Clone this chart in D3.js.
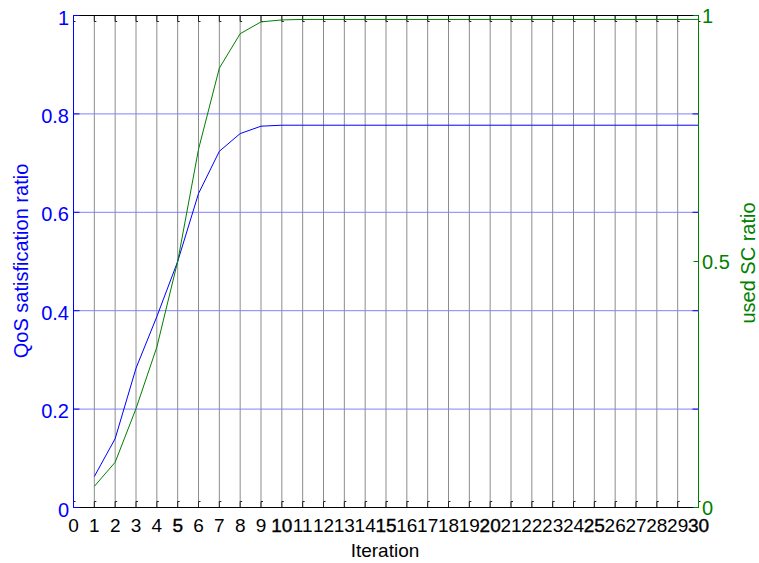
<!DOCTYPE html>
<html><head><meta charset="utf-8">
<script src="https://cdn.jsdelivr.net/npm/d3@7"></script>
<style>html,body{margin:0;padding:0;background:#fff;}svg{display:block;font-family:"Liberation Sans",Arial,sans-serif;}</style>
</head><body>
<script>
const iterations = [1,2,3,4,5,6,7,8,9,10,11,12,13,14,15,16,17,18,19,20,21,22,23,24,25,26,27,28,29,30];
const qosRatio = [0.063,0.140,0.283,0.388,0.500,0.638,0.724,0.760,0.775,0.777,0.777,0.777,0.777,0.777,0.777,0.777,0.777,0.777,0.777,0.777,0.777,0.777,0.777,0.777,0.777,0.777,0.777,0.777,0.777,0.777];
const scRatio = [0.043,0.092,0.201,0.326,0.500,0.728,0.893,0.963,0.987,0.991,0.992,0.992,0.992,0.992,0.992,0.992,0.992,0.992,0.992,0.992,0.992,0.992,0.992,0.992,0.992,0.992,0.992,0.992,0.992,0.992];
const xTicks = [0,1,2,3,4,5,6,7,8,9,10,11,12,13,14,15,16,17,18,19,20,21,22,23,24,25,26,27,28,29,30];
const xMajorTicks = [5,10,15,20,25,30];
const leftTicks = [0,0.2,0.4,0.6,0.8,1];
const rightTicks = [0,0.5,1];

const W = 759, H = 563;
const L = 73.5, R = 698.5, T = 15.5, B = 507.5;
const svg = d3.select("body").append("svg").attr("width", W).attr("height", H);

const x = d3.scaleLinear().domain([0,30]).range([L,R]);
const yL = d3.scaleLinear().domain([0,1]).range([B,T]);
const yR = d3.scaleLinear().domain([0,1]).range([B,T]);

const blue = "#0000ff", green = "#008000";

// vertical grid
svg.append("g").selectAll("line").data(xTicks.filter(d=>d>0&&d<30)).join("line")
  .attr("x1", d=>x(d)).attr("x2", d=>x(d)).attr("y1", T).attr("y2", B)
  .attr("stroke", "#8c8c8c").attr("stroke-width", 1);
// horizontal grid (left axis)
svg.append("g").selectAll("line").data(leftTicks.filter(d=>d>0&&d<1)).join("line")
  .attr("x1", L).attr("x2", R).attr("y1", d=>yL(d)).attr("y2", d=>yL(d))
  .attr("stroke", "#8080ff").attr("stroke-width", 1);

// top & bottom ticks
const tk = svg.append("g").attr("stroke", "#222").attr("fill", "none");
tk.selectAll("path.b").data(xTicks).join("path").attr("class","b")
  .attr("d", d=>`M${x(d)},${B}V${B-6}h2`);
tk.selectAll("path.t").data(xTicks).join("path").attr("class","t")
  .attr("d", d=>`M${x(d)},${T}V${T+6}h2`);

// lines
const lineL = d3.line().x((d,i)=>x(iterations[i])).y(d=>yL(d));
const lineR = d3.line().x((d,i)=>x(iterations[i])).y(d=>yR(d));
svg.append("path").datum(qosRatio).attr("d", lineL).attr("fill","none").attr("stroke", blue).attr("stroke-width",1);
svg.append("path").datum(scRatio).attr("d", lineR).attr("fill","none").attr("stroke", green).attr("stroke-width",1);

// box
svg.append("line").attr("x1",L).attr("x2",R).attr("y1",T).attr("y2",T).attr("stroke","#000");
svg.append("line").attr("x1",L).attr("x2",R).attr("y1",B).attr("y2",B).attr("stroke","#000");

// left axis
const gl = svg.append("g");
gl.append("line").attr("x1",L).attr("x2",L).attr("y1",T).attr("y2",B).attr("stroke",blue);
gl.selectAll("line.t").data(leftTicks).join("line").attr("class","t")
  .attr("x1",L).attr("x2",L+6).attr("y1",d=>yL(d)).attr("y2",d=>yL(d)).attr("stroke",blue);
gl.selectAll("line.r").data(leftTicks).join("line").attr("class","r")
  .attr("x1",R-6).attr("x2",R).attr("y1",d=>yL(d)).attr("y2",d=>yL(d)).attr("stroke",blue);
gl.selectAll("text").data(leftTicks).join("text")
  .attr("x", 69).attr("y", d=>yL(d)+9).attr("text-anchor","end")
  .attr("font-size", 20).attr("fill", blue).text(d=>d3.format("~g")(d));

// right axis
const gr = svg.append("g");
gr.append("line").attr("x1",R).attr("x2",R).attr("y1",T).attr("y2",B).attr("stroke",green);
gr.selectAll("line.t").data(rightTicks).join("line").attr("class","t")
  .attr("x1",R-5).attr("x2",R).attr("y1",d=>yR(d)).attr("y2",d=>yR(d)).attr("stroke",green);
gr.selectAll("text").data(rightTicks).join("text")
  .attr("x", 702).attr("y", d=>yR(d)+7.5).attr("text-anchor","start")
  .attr("font-size", 20).attr("fill", green).text(d=>d3.format("~g")(d));

// x tick labels
const gx = svg.append("g");
gx.selectAll("text").data(xTicks).join("text")
  .attr("x", d=>x(d)).attr("y", 531.5).attr("text-anchor","middle")
  .attr("font-size", 19).attr("fill","#000")
  .attr("stroke", d=>xMajorTicks.includes(d) ? "#000" : "none")
  .attr("stroke-width", 0.4)
  .text(d=>d);

// axis titles
svg.append("text").attr("x", 385).attr("y", 557).attr("text-anchor","middle")
  .attr("font-size", 19).attr("fill","#000").text("Iteration");
svg.append("text").attr("transform","translate(27.5,261) rotate(-90)").attr("text-anchor","middle")
  .attr("font-size", 20).attr("fill", blue).text("QoS satisfication ratio");
svg.append("text").attr("transform","translate(755,263) rotate(-90)").attr("text-anchor","middle")
  .attr("font-size", 20).attr("fill", green).text("used SC ratio");
</script>
</body></html>
